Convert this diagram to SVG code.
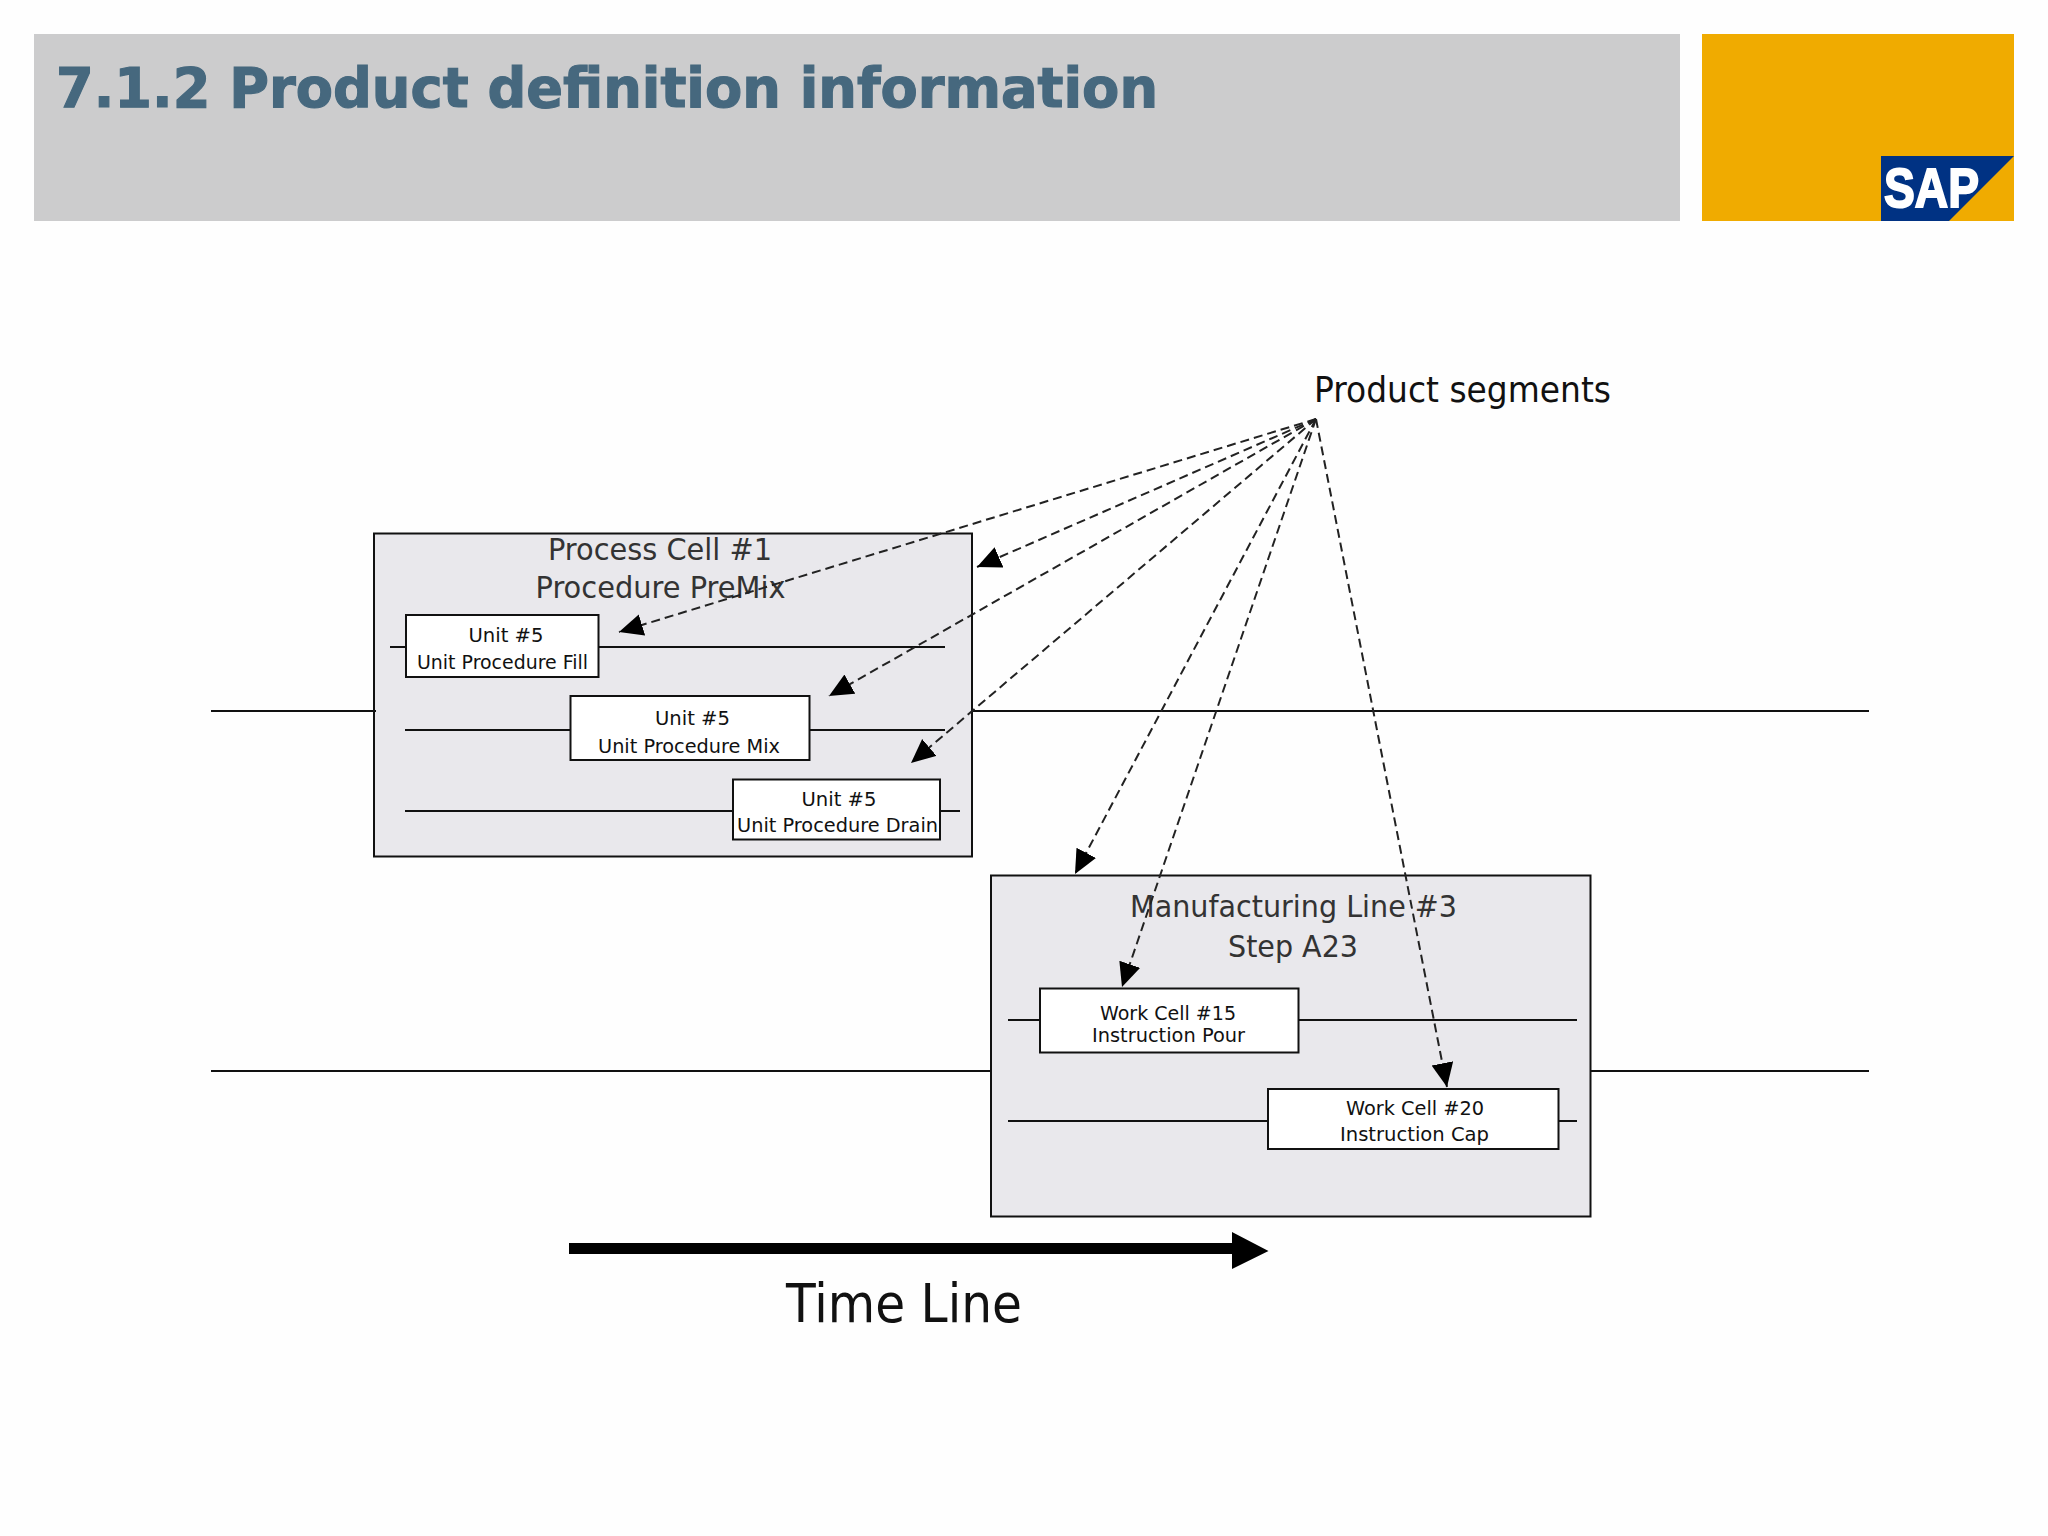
<svg xmlns="http://www.w3.org/2000/svg" width="2048" height="1536" viewBox="0 0 2048 1536">
<style>
text{font-family:"DejaVu Sans","Liberation Sans",sans-serif;fill:#111}
.title{font-family:"DejaVu Sans","Liberation Sans",sans-serif;font-weight:700;font-size:56px;fill:#46687e;stroke:#46687e;stroke-width:1.2px}
.logo{font-family:"Liberation Sans",Arial,sans-serif;font-weight:700;font-size:56px;fill:#fff;stroke:#fff;stroke-width:2px}
.cont{fill:#e9e8ec;stroke:#111;stroke-width:2}
.box{fill:#fff;stroke:#111;stroke-width:2}
.head{font-size:30px;fill:#333}
.sub{font-size:20px}
.lbl{font-size:35px}
.big{font-size:54px}
.ln{stroke:#111;stroke-width:2;fill:none}
.dash{stroke:#222;stroke-width:2;fill:none;stroke-dasharray:9 5;marker-end:url(#ah)}
</style>
<defs>
<marker id="ah" markerUnits="userSpaceOnUse" markerWidth="26" markerHeight="24" refX="24" refY="11" orient="auto"><path d="M0 0L24 11L0 22Z" fill="#000"/></marker>
</defs>
<rect width="2048" height="1536" fill="#fefefe"/>
<g id="header">
<rect x="34" y="34" width="1646" height="187" fill="#cccccd"/>
<text class="title" x="56" y="107" textLength="1102" lengthAdjust="spacingAndGlyphs">7.1.2 Product definition information</text>
</g>
<g id="logo">
<rect x="1702" y="34" width="312" height="187" fill="#f0ab00"/>
<path d="M1881 156H2014L1949 221H1881Z" fill="#003283"/>
<text class="logo" x="1884" y="207" textLength="95" lengthAdjust="spacingAndGlyphs">SAP</text>
</g>
<g id="process-cell">
<rect class="cont" x="374" y="533.500" width="598" height="323"/>
<text class="head" x="548" y="560" textLength="224" lengthAdjust="spacingAndGlyphs">Process Cell #1</text>
<text class="head" x="535.500" y="598" textLength="250" lengthAdjust="spacingAndGlyphs">Procedure PreMix</text>
</g>
<g id="unit-fill">
<rect class="box" x="406" y="615" width="192.500" height="62"/>
<text class="sub" x="468.500" y="641.500" textLength="75" lengthAdjust="spacingAndGlyphs">Unit #5</text>
<text class="sub" x="417" y="669" textLength="171" lengthAdjust="spacingAndGlyphs">Unit Procedure Fill</text>
</g>
<g id="unit-mix">
<rect class="box" x="570.500" y="696" width="239" height="64"/>
<text class="sub" x="655" y="725" textLength="75" lengthAdjust="spacingAndGlyphs">Unit #5</text>
<text class="sub" x="598" y="753" textLength="182" lengthAdjust="spacingAndGlyphs">Unit Procedure Mix</text>
</g>
<g id="unit-drain">
<rect class="box" x="733" y="779.500" width="207" height="60"/>
<text class="sub" x="801.500" y="806" textLength="75" lengthAdjust="spacingAndGlyphs">Unit #5</text>
<text class="sub" x="737" y="832" textLength="201" lengthAdjust="spacingAndGlyphs">Unit Procedure Drain</text>
</g>
<g id="manufacturing-line">
<rect class="cont" x="991" y="875.500" width="599.500" height="341"/>
<text class="head" x="1130" y="917" textLength="327" lengthAdjust="spacingAndGlyphs">Manufacturing Line #3</text>
<text class="head" x="1228" y="957" textLength="130" lengthAdjust="spacingAndGlyphs">Step A23</text>
</g>
<g id="work-cell-15">
<rect class="box" x="1040" y="988.500" width="258.500" height="64"/>
<text class="sub" x="1100" y="1019.500" textLength="136" lengthAdjust="spacingAndGlyphs">Work Cell #15</text>
<text class="sub" x="1092" y="1042" textLength="153" lengthAdjust="spacingAndGlyphs">Instruction Pour</text>
</g>
<g id="work-cell-20">
<rect class="box" x="1268" y="1089" width="290.500" height="60"/>
<text class="sub" x="1346" y="1115" textLength="138" lengthAdjust="spacingAndGlyphs">Work Cell #20</text>
<text class="sub" x="1340" y="1141" textLength="149" lengthAdjust="spacingAndGlyphs">Instruction Cap</text>
</g>
<g id="product-segments">
<text class="lbl" x="1314" y="402" textLength="297" lengthAdjust="spacingAndGlyphs">Product segments</text>
</g>
<g id="connectors">
<path class="ln" d="M211 711H376M972 711H1869M211 1071H991M1590.500 1071H1869"/>
<path class="ln" d="M390 647H406M598.500 647H945M405 730H570M809.500 730H945M405 811H733M940 811H960"/>
<path class="ln" d="M1008 1020H1040M1298.500 1020H1577M1008 1121H1268M1558.500 1121H1577"/>
<path class="dash" d="M1316 419L619 632"/>
<path class="dash" d="M1316 419L977 567"/>
<path class="dash" d="M1316 419L829 696"/>
<path class="dash" d="M1316 419L911 763"/>
<path class="dash" d="M1316 419L1075 874"/>
<path class="dash" d="M1316 419L1122 987"/>
<path class="dash" d="M1316 419L1447 1087"/>
<path d="M569 1243H1232V1232L1268.500 1251L1232 1269V1254H569Z" fill="#000"/>
</g>
<g id="time-line-label">
<text class="big" x="786" y="1322" textLength="236" lengthAdjust="spacingAndGlyphs">Time Line</text>
</g>
</svg>
